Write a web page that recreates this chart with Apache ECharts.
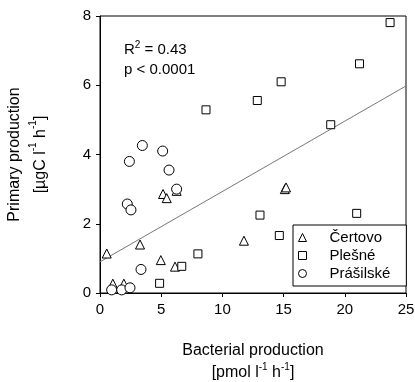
<!DOCTYPE html>
<html>
<head>
<meta charset="utf-8">
<script src="https://cdn.jsdelivr.net/npm/echarts@6/dist/echarts.min.js"></script>
<style>
  html, body { margin: 0; padding: 0; background: #fff; }
  #chart { width: 415px; height: 382px; }
</style>
</head>
<body>
<div id="chart"></div>
<script>
var fontName = 'Liberation Sans, Arial, sans-serif';

// Čertovo (triangles)
var certovo = [
  [0.55, 1.14], [1.05, 0.27], [1.95, 0.27], [3.27, 1.40], [4.97, 0.95],
  [5.15, 2.86], [5.45, 2.74], [6.13, 0.76], [6.26, 2.95], [11.76, 1.51],
  [15.1, 3.0], [15.2, 3.05]
];
// Plešné (squares)
var plesne = [
  [4.87, 0.28], [6.68, 0.77], [8.0, 1.13], [8.66, 5.29], [12.85, 5.56],
  [13.07, 2.25], [14.65, 1.66], [14.8, 6.1], [18.85, 4.86], [20.97, 2.3],
  [21.2, 6.62], [23.7, 7.81]
];
// Prášilské (circles)
var prasilske = [
  [0.95, 0.09], [1.77, 0.09], [2.45, 0.15], [2.23, 2.57], [2.53, 2.4],
  [2.4, 3.8], [3.35, 0.68], [3.46, 4.26], [5.12, 4.10], [5.64, 3.55],
  [6.26, 3.0]
];
// regression line
var fitX = [0, 25];
var fitY = [0.9, 5.98];

var xTicks = [0, 5, 10, 15, 20, 25];
var yTicks = [0, 2, 4, 6, 8];

var fitData = fitX.map(function(x, i) { return [x, fitY[i]]; });

var myChart = echarts.init(document.getElementById('chart'));

function pointSeries(name, data, symbol, size) {
  return {
    name: name,
    type: 'scatter',
    data: data,
    symbol: symbol,
    symbolSize: size,
    itemStyle: { color: '#fff', borderColor: '#000', borderWidth: 1, opacity: 1 },
    z: 3
  };
}

function titleRich(lh) {
  return {
    t: { fontSize: 16, color: '#000', fontFamily: fontName, lineHeight: lh },
    s: { fontSize: 10, color: '#000', fontFamily: fontName, verticalAlign: 'top', lineHeight: lh }
  };
}

var option = {
  animation: false,
  textStyle: { fontFamily: fontName },
  grid: {
    left: 100, right: 9, top: 16, bottom: 89,
    containLabel: false,
    outerBoundsMode: 'none',
    show: true, borderColor: '#000', borderWidth: 1
  },
  xAxis: {
    type: 'value',
    min: xTicks[0], max: xTicks[xTicks.length - 1], interval: 5,
    splitLine: { show: false },
    axisLine: { lineStyle: { color: '#000' } },
    axisTick: { length: 4, lineStyle: { color: '#000' } },
    axisLabel: { color: '#000', fontSize: 15, margin: 9 },
    name: '{t|Bacterial production}\n{t|[pmol l}{s|-1}{t| h}{s|-1}{t|]}',
    nameLocation: 'middle',
    nameGap: 47,
    nameTextStyle: { rich: titleRich(22) }
  },
  yAxis: {
    type: 'value',
    min: yTicks[0], max: yTicks[yTicks.length - 1], interval: 2,
    splitLine: { show: false },
    axisLine: { lineStyle: { color: '#000' } },
    axisTick: { length: 4, lineStyle: { color: '#000' } },
    axisLabel: { color: '#000', fontSize: 15, margin: 9 },
    name: '{t|Primary production}\n{t|[µgC l}{s|-1}{t| h}{s|-1}{t|]}',
    nameLocation: 'middle',
    nameGap: 46,
    nameTextStyle: { rich: titleRich(26) }
  },
  legend: {
    left: 293, top: 225, width: 100,
    orient: 'vertical',
    data: ['Čertovo', 'Plešné', 'Prášilské'],
    backgroundColor: '#fff',
    borderColor: '#000', borderWidth: 1, borderRadius: 0,
    padding: [5, 16, 5, 5],
    itemGap: 3,
    itemWidth: 8, itemHeight: 8,
    itemStyle: { color: '#fff', borderColor: '#000', borderWidth: 1 },
    textStyle: { color: '#000', fontSize: 15, padding: [0, 0, 0, 18] }
  },
  graphic: [{
    type: 'text',
    left: 124, top: 40,
    style: {
      rich: {
        t: { fontSize: 15, fill: '#000', fontFamily: fontName, lineHeight: 20 },
        s: { fontSize: 10, fill: '#000', fontFamily: fontName, verticalAlign: 'top', lineHeight: 20 }
      },
      text: '{t|R}{s|2}{t| = 0.43}\n{t|p < 0.0001}'
    }
  }],
  series: [
    {
      type: 'line',
      data: fitData,
      symbol: 'none',
      lineStyle: { color: '#777', width: 1 },
      silent: true,
      z: 2
    },
    pointSeries('Čertovo', certovo, 'triangle', 9),
    pointSeries('Plešné', plesne, 'rect', 8),
    pointSeries('Prášilské', prasilske, 'circle', 10)
  ]
};

myChart.setOption(option);
</script>
</body>
</html>
